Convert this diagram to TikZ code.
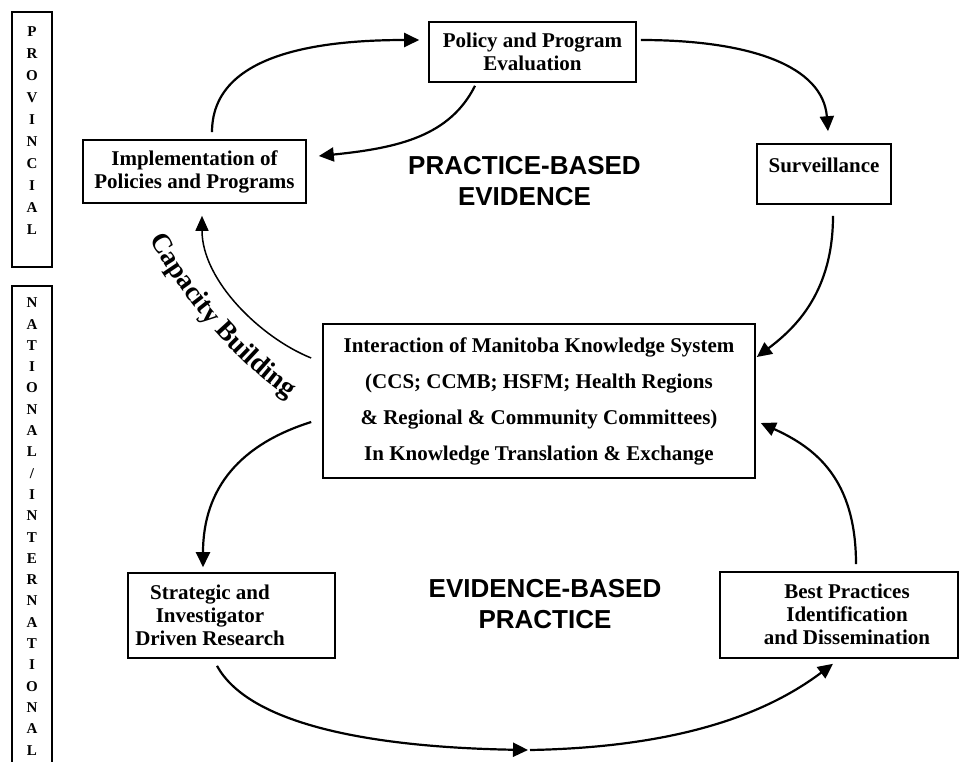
\documentclass[tikz,border=0pt]{standalone}
\usepackage{fontspec}
\setmainfont{Liberation Serif}
\newfontfamily\hsans{Liberation Sans}
\usetikzlibrary{arrows.meta,decorations.text}
\newcommand\cbfont{\fontsize{27.5}{27.5}\selectfont\bfseries}
\begin{document}
\begin{tikzpicture}[x=1pt,y=-1pt,
  box/.style={draw, line width=1.6pt, inner sep=0pt},
  txt/.style={align=center, font=\fontsize{21}{23}\selectfont\bfseries, inner sep=0pt},
  head/.style={align=center, font=\hsans\fontsize{26}{31}\selectfont\bfseries, inner sep=0pt},
  vtxt/.style={align=center, inner sep=0pt},
  arr/.style={line width=2.2pt, -{Triangle[length=15pt,width=14pt]}},
  carr/.style={line width=1.5pt, -{Triangle[length=15pt,width=13pt]}}]
\useasboundingbox (0,0) rectangle (961,761);

% side boxes
\node[box, minimum width=40pt, minimum height=255pt] (provbox) at (32,139.5) {};
\node[vtxt, font=\fontsize{15}{22}\selectfont\bfseries] (provtxt) at (32,131) {P\\R\\O\\V\\I\\N\\C\\I\\A\\L};
\coordinate (nbl) at (12,762);
\coordinate (nbr) at (52,762);
\draw[line width=1.6pt] (nbl) |- (32,286) -| (nbr);
\node[vtxt, font=\fontsize{15}{21.3}\selectfont\bfseries] (nattxt) at (32,526.5) {N\\A\\T\\I\\O\\N\\A\\L\\/\\I\\N\\T\\E\\R\\N\\A\\T\\I\\O\\N\\A\\L};

% main boxes
\node[box, txt, minimum width=207pt, minimum height=60pt] (policy) at (532.5,52) {Policy and Program\\Evaluation};
\node[box, txt, minimum width=223pt, minimum height=63pt] (impl) at (194.5,171.5) {Implementation of\\Policies and Programs};
\node[box, minimum width=134pt, minimum height=60pt] (surv) at (824,174) {};
\node[txt] (survtxt) at (824,165) {Surveillance};
\node[box, txt, font=\fontsize{21}{36}\selectfont\bfseries, minimum width=432pt, minimum height=154pt] (central) at (539,401)
  {Interaction of Manitoba Knowledge System\\(CCS; CCMB; HSFM; Health Regions\\\& Regional \& Community Committees)\\In Knowledge Translation \& Exchange};
\node[box, minimum width=207pt, minimum height=85pt] (strat) at (231.5,615.5) {};
\node[txt] (strattxt) at (210,615.5) {Strategic and\\Investigator\\Driven Research};
\node[box, minimum width=238pt, minimum height=86pt] (best) at (839,615) {};
\node[txt] (besttxt) at (847,614.5) {Best Practices\\Identification\\and Dissemination};

% headings
\node[head] (pbe) at (524.5,181.5) {PRACTICE-BASED\\EVIDENCE};
\node[head] (ebp) at (545,604.5) {EVIDENCE-BASED\\PRACTICE};

% connectors
\draw[arr] ([xshift=17.5pt,yshift=7pt]impl.north) .. controls +(0,-75) and +(-110,0) .. ([xshift=-9pt,yshift=12pt]policy.west);
\draw[arr] ([xshift=-57.5pt,yshift=-3pt]policy.south) .. controls +(-25,50) and +(80,-8) .. ([xshift=12pt,yshift=15.5pt]impl.east);
\draw[arr] ([xshift=4pt,yshift=12pt]policy.east) .. controls +(110,0) and +(-5,-65) .. ([xshift=4pt,yshift=12pt]surv.north);
\draw[arr] ([xshift=9pt,yshift=-11pt]surv.south) .. controls +(0,75) and +(40,-30) .. ([xshift=1pt,yshift=44pt]central.east);
\draw[carr] ([xshift=-11pt,yshift=43pt]central.west) .. controls +(-50,-20) and +(0,65) .. ([xshift=7.5pt,yshift=-12pt]impl.south);
\draw[arr] ([xshift=-11pt,yshift=-21pt]central.west) .. controls +(-70,22) and +(0,-80) .. ([xshift=-28.5pt,yshift=5pt]strat.north);
\coordinate (mid) at (528,750);
\draw[arr] ([xshift=-14.5pt,yshift=-7pt]strat.south) .. controls +(30,55) and +(-170,-3) .. (mid);
\draw[arr] ([xshift=2pt]mid) .. controls +(160,-3) and +(-60,45) .. ([xshift=-6pt,yshift=-5pt]best.south);
\draw[arr] ([xshift=17pt,yshift=7pt]best.north) .. controls +(0,-85) and +(55,25) .. ([xshift=5pt,yshift=-22pt]central.east);

% Capacity Building label
\path[decorate, decoration={text along path, text align=center, text={|\cbfont|Capacity Building}}]
  (146,234) .. controls (182,298) and (232,360) .. (294,402);
\end{tikzpicture}
\end{document}
